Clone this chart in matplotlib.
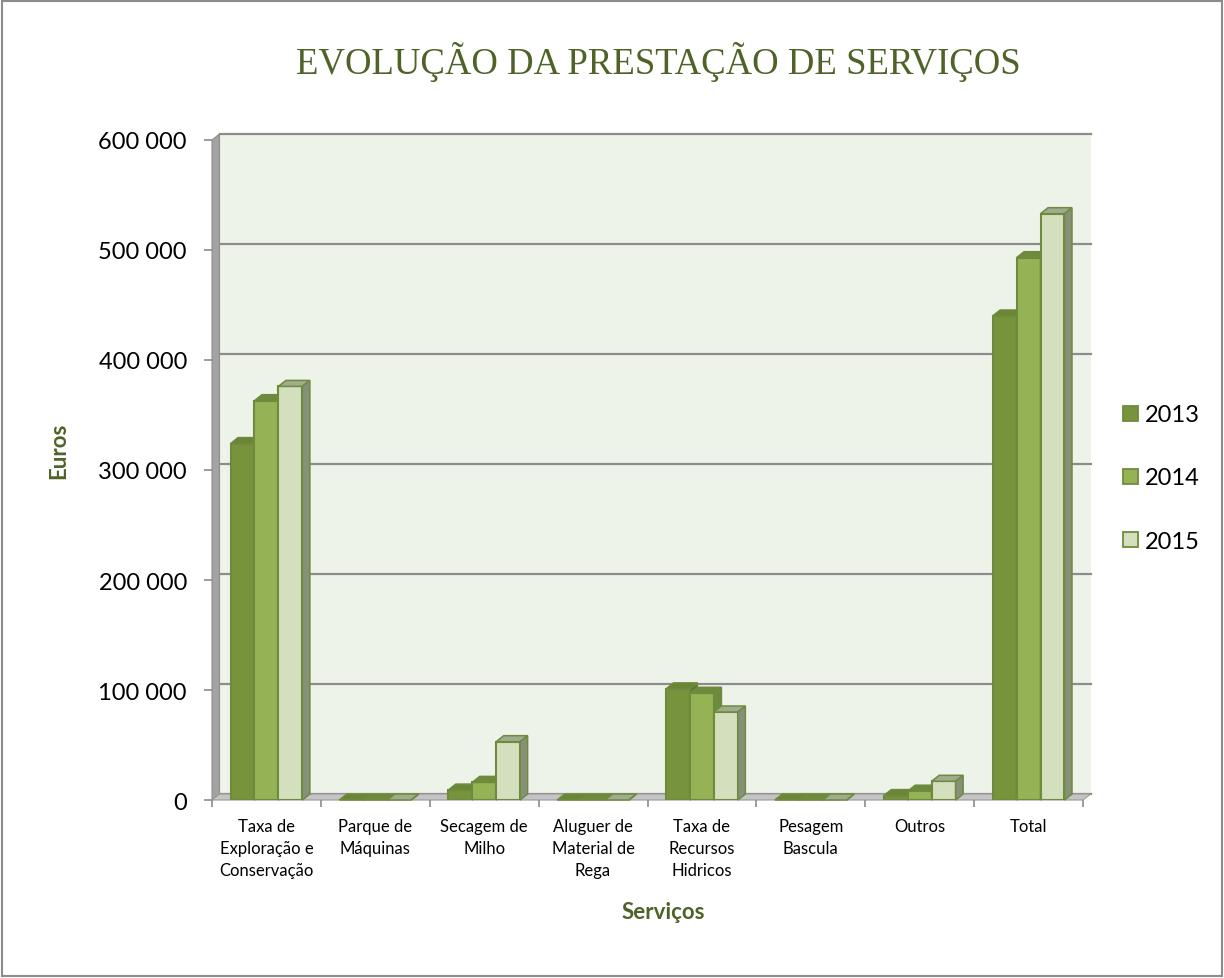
import numpy as np
import matplotlib
matplotlib.use("Agg")
import matplotlib.pyplot as plt
from matplotlib.patches import Polygon, Patch, Rectangle
from matplotlib.ticker import FuncFormatter

# dados
categorias = ["Taxa de\nExploração e\nConservação", "Parque de\nMáquinas", "Secagem de\nMilho",
              "Aluguer de\nMaterial de\nRega", "Taxa de\nRecursos\nHidricos", "Pesagem\nBascula",
              "Outros", "Total"]
anos = ["2013", "2014", "2015"]
v2013 = [324000, 0, 9000, 0, 101000, 0, 4000, 440000]
v2014 = [363000, 0, 16000, 0, 97000, 0, 8000, 493000]
v2015 = [376000, 0, 53000, 0, 80000, 0, 17000, 533000]
yticks = [0, 100000, 200000, 300000, 400000, 500000, 600000]

series = [v2013, v2014, v2015]
frente = ["#77933C", "#95B254", "#D3DFBD"]
topo = ["#6A8634", "#6E8B3D", "#A0AC8E"]
lado = ["#5E772E", "#6E8B3D", "#87917A"]
borda = "#6E8B3D"
verde_txt = "#4F6228"

W, H = 1224, 979
fig = plt.figure(figsize=(W / 100, H / 100), dpi=100)
fig.patches.append(Rectangle((2 / W, 2 / H), 1 - 4 / W, 1 - 4 / H, transform=fig.transFigure,
                             fill=False, edgecolor="#8C8C8C", lw=1.5))

x0, x1, yb, yt = 212, 1083, 801, 141
ax = fig.add_axes([x0 / W, 1 - yb / H, (x1 - x0) / W, (yb - yt) / H])
n = len(categorias)
ymax = 600000
ax.set_xlim(0, n)
ax.set_ylim(0, ymax)
ax.patch.set_visible(False)
for s in ax.spines.values():
    s.set_visible(False)

# profundidade (3D falso)
dx = 7.5 / ((x1 - x0) / n)
dy = 6 / ((yb - yt) / ymax)

# parede do fundo, parede lateral e chão
ax.add_patch(Polygon([(dx, dy), (n + dx, dy), (n + dx, ymax + dy), (dx, ymax + dy)],
                     facecolor="#EEF3E9", edgecolor="none", zorder=0, clip_on=False))
for t in yticks:
    ax.plot([dx, n + dx], [t + dy, t + dy], color="#8C8C8C", lw=1.6, zorder=1, clip_on=False)
ax.add_patch(Polygon([(0, 0), (dx, dy), (dx, ymax + dy), (0, ymax)],
                     facecolor="#A3A3A3", edgecolor="#8C8C8C", lw=0.8, zorder=1, clip_on=False))
ax.add_patch(Polygon([(0, 0), (n, 0), (n + dx, dy), (dx, dy)],
                     facecolor="#C4C4C4", edgecolor="#9A9A9A", lw=0.8, zorder=1, clip_on=False))

# barras
w = 0.22
pos = np.arange(n) + 0.5
for j, vals in enumerate(series):
    xs = pos + (j - 1) * w
    ax.bar(xs, vals, width=w, color=frente[j], edgecolor=borda, lw=1.5, zorder=3 + j)
    for xc, v in zip(xs, vals):
        a, b = xc - w / 2, xc + w / 2
        ax.add_patch(Polygon([(a, v), (b, v), (b + dx, v + dy), (a + dx, v + dy)],
                             facecolor=topo[j], edgecolor=borda, lw=1.1, zorder=3 + j, clip_on=False))
        ax.add_patch(Polygon([(b, 0), (b + dx, dy), (b + dx, v + dy), (b, v)],
                             facecolor=lado[j], edgecolor=borda, lw=1.1, zorder=3 + j, clip_on=False))

# eixos
ax.set_yticks(yticks)
ax.yaxis.set_major_formatter(FuncFormatter(lambda v, p: f"{int(v):,}".replace(",", " ")))
ax.tick_params(axis="y", length=6, width=1.2, color="#8C8C8C", pad=12, labelsize=17)
ax.set_xticks(np.arange(n + 1))
ax.set_xticklabels([])
ax.set_xticks(pos, minor=True)
ax.set_xticklabels(categorias, minor=True)
ax.tick_params(axis="x", which="major", length=5, width=1.2, color="#8C8C8C")
ax.tick_params(axis="x", which="minor", length=0, pad=13, labelsize=12)
for lab in ax.get_xticklabels(minor=True):
    lab.set_linespacing(1.45)
for lab in ax.get_xticklabels(minor=True) + ax.get_yticklabels():
    lab.set_family("Lato")

fig.text(658 / W, 1 - 62 / H, "EVOLUÇÃO DA PRESTAÇÃO DE SERVIÇOS", ha="center", va="center",
         fontsize=26.5, color=verde_txt, family="Liberation Serif")
fig.text(59 / W, 1 - 451 / H, "Euros", rotation=90, ha="center", va="center",
         fontsize=16, fontweight="bold", color=verde_txt, family="Lato")
fig.text(663 / W, 1 - 913 / H, "Serviços", ha="center", va="center",
         fontsize=16, fontweight="bold", color=verde_txt, family="Lato")

handles = [Patch(facecolor=frente[j], edgecolor=borda, lw=1.3) for j in range(3)]
fig.legend(handles, anos, loc="center left", bbox_to_anchor=(1123 / W, 1 - 479 / H),
           frameon=False, prop={"family": "Lato", "size": 17}, handlelength=0.62,
           handleheight=0.62, handletextpad=0.3, labelspacing=1.78,
           borderpad=0, borderaxespad=0)

fig.savefig("out.png", dpi=100)
